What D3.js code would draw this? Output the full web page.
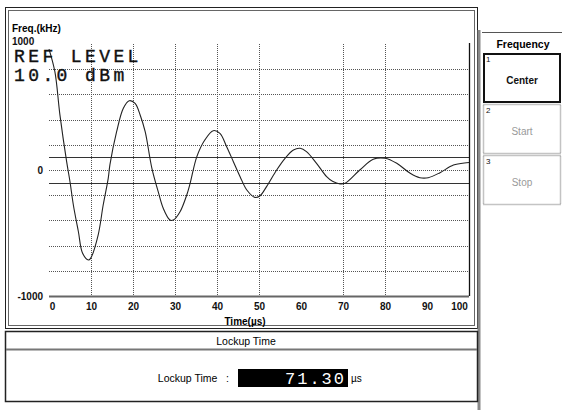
<!DOCTYPE html>
<html>
<head>
<meta charset="utf-8">
<script src="https://cdn.jsdelivr.net/npm/d3@7"></script>
<style>
  body { margin: 0; background: #fff; }
  svg { display: block; }
</style>
</head>
<body>
<div id="chart"></div>
<script>
// Lockup time trace
const timeUs = [0, 1.4, 2.6, 4.2, 5, 5.8, 7, 8, 9.4, 9.9, 11.7, 12.9, 14.1, 14.5, 16.1, 17.7, 19.1, 20.5, 21.7, 22.9, 24.5, 26, 27.2, 28.8, 29.6, 31.2, 32.8, 33.6, 35.2, 37.1, 39.1, 40.7, 42.3, 43.9, 45.5, 47.1, 49, 50.2, 51.8, 54.2, 56.2, 58.2, 59.8, 61.3, 63.7, 66.1, 67.5, 69.3, 70.5, 74, 77.2, 80, 82.8, 86, 88.3, 90.3, 93.1, 96.3, 99.4, 100];
const freqKHz = [960, 780, 437, 66, -93, -278, -490, -661, -714, -701, -516, -278, -66, 40, 304, 490, 550, 529, 437, 304, 13, -172, -304, -397, -397, -331, -198, -106, 106, 238, 312, 291, 185, 66, -53, -159, -217, -206, -132, 0, 93, 159, 172, 146, 53, -53, -90, -111, -106, 0, 85, 93, 53, -26, -61, -61, -21, 40, 58, 60];

const xTicks = [0, 10, 20, 30, 40, 50, 60, 70, 80, 90, 100];
const xGrid = [10, 20, 30, 40, 50, 70, 80];
const yGrid = [-800, -600, -400, -200, 0, 200, 400, 600, 800];
const yLabels = [1000, 0, -1000];
const limitLines = [100, -100];

const softkeys = [
  { num: "1", label: "Center", active: true },
  { num: "2", label: "Start", active: false },
  { num: "3", label: "Stop", active: false }
];
const lockupValue = "71.30";

const W = 562, H = 410;
const svg = d3.select("#chart").append("svg")
  .attr("width", W)
  .attr("height", H);

// Scales
const x = d3.scaleLinear().domain([0, 100]).range([49, 469]);
const y = d3.scaleLinear().domain([-1000, 1000]).range([296, 44]);

const labelFont = "'Liberation Sans', Arial, sans-serif";
const monoFont = "'Liberation Mono', 'DejaVu Sans Mono', monospace";

// Main panel frame (double border)
svg.append("rect")
  .attr("x", 5.5).attr("y", 7.5).attr("width", 472).attr("height", 321)
  .attr("fill", "none").attr("stroke", "#222").attr("stroke-width", 1);
svg.append("rect")
  .attr("x", 8.5).attr("y", 10.5).attr("width", 466).attr("height", 315)
  .attr("fill", "none").attr("stroke", "#666").attr("stroke-width", 1);
// gray shadow on the right side
svg.append("line")
  .attr("x1", 479).attr("x2", 479).attr("y1", 30).attr("y2", H)
  .attr("stroke", "#888").attr("stroke-width", 3);

// Grid
const grid = svg.append("g");
grid.selectAll(".vg")
  .data(xGrid)
  .join("line")
    .attr("x1", d => x(d) + 0.5).attr("x2", d => x(d) + 0.5)
    .attr("y1", y(1000)).attr("y2", y(-1000))
    .attr("stroke", "#555").attr("stroke-width", 1)
    .attr("stroke-dasharray", "1,1");
grid.selectAll(".hg")
  .data(yGrid)
  .join("line")
    .attr("x1", x(0)).attr("x2", x(100))
    .attr("y1", d => Math.round(y(d)) + 0.5).attr("y2", d => Math.round(y(d)) + 0.5)
    .attr("stroke", "#555").attr("stroke-width", 1)
    .attr("stroke-dasharray", "1,1");

// Limit lines
svg.selectAll(".lim")
  .data(limitLines)
  .join("line")
    .attr("x1", x(0)).attr("x2", x(100))
    .attr("y1", d => Math.round(y(d)) + 0.5).attr("y2", d => Math.round(y(d)) + 0.5)
    .attr("stroke", "#333").attr("stroke-width", 1.2);

// Bottom axis line and right border
svg.append("line")
  .attr("x1", x(0)).attr("x2", x(100))
  .attr("y1", y(-1000) + 0.5).attr("y2", y(-1000) + 0.5)
  .attr("stroke", "#666").attr("stroke-width", 2);
svg.append("line")
  .attr("x1", x(100) + 0.5).attr("x2", x(100) + 0.5)
  .attr("y1", y(1000) - 1).attr("y2", y(-1000))
  .attr("stroke", "#111").attr("stroke-width", 1.3);

// X axis using d3 axis, without ticks
const xAxis = svg.append("g")
  .attr("transform", `translate(0,${y(-1000)})`)
  .call(d3.axisBottom(x).tickValues(xTicks).tickSize(0).tickPadding(7).tickFormat(d3.format("d")));
xAxis.select(".domain").remove();
// end labels are nudged inside the plot, like on the instrument
xAxis.selectAll("text")
  .attr("dx", d => d === 0 ? 3 : d === 100 ? -10 : 0)
  .attr("font-family", labelFont)
  .attr("font-weight", "bold")
  .attr("font-size", "10px")
  .attr("fill", "#111");

svg.append("text")
  .attr("x", 245).attr("y", 325)
  .attr("text-anchor", "middle")
  .attr("font-family", labelFont).attr("font-weight", "bold").attr("font-size", "10px")
  .text("Time(µs)");

// Y labels
svg.selectAll(".ylab")
  .data(yLabels)
  .join("text")
    .attr("x", d => d === 1000 ? 12 : 43)
    .attr("y", d => d === 1000 ? y(d) + 1 : y(d) + 4)
    .attr("text-anchor", d => d === 1000 ? "start" : "end")
    .attr("font-family", labelFont).attr("font-weight", "bold").attr("font-size", "10px")
    .attr("fill", "#111")
    .text(d => d);

svg.append("text")
  .attr("x", 12).attr("y", 32)
  .attr("font-family", labelFont).attr("font-weight", "bold").attr("font-size", "10px")
  .text("Freq.(kHz)");

// Trace
const line = d3.line()
  .x((d, i) => x(timeUs[i]))
  .y(d => y(d))
  .curve(d3.curveCatmullRom);
svg.append("path")
  .datum(freqKHz)
  .attr("d", line)
  .attr("fill", "none")
  .attr("stroke", "#222")
  .attr("stroke-width", 1.1);

// REF LEVEL overlay
svg.append("text")
  .attr("x", 14).attr("y", 62)
  .attr("font-family", monoFont).attr("font-size", "18px")
  .attr("letter-spacing", "3.4px")
  .attr("fill", "#111")
  .attr("stroke", "#111").attr("stroke-width", 0.4)
  .text("REF LEVEL");
svg.append("text")
  .attr("x", 14).attr("y", 81)
  .attr("font-family", monoFont).attr("font-size", "18px")
  .attr("letter-spacing", "3.4px")
  .attr("fill", "#111")
  .attr("stroke", "#111").attr("stroke-width", 0.4)
  .text("10.0 dBm");

// Right softkey panel
const panel = svg.append("g");
panel.append("line")
  .attr("x1", 482).attr("x2", W).attr("y1", 32.5).attr("y2", 32.5)
  .attr("stroke", "#555");
panel.append("text")
  .attr("x", 523).attr("y", 48)
  .attr("text-anchor", "middle")
  .attr("font-family", labelFont).attr("font-weight", "bold").attr("font-size", "10.5px")
  .text("Frequency");

const keyH = 50;
const keys = panel.selectAll(".key")
  .data(softkeys)
  .join("g")
    .attr("transform", (d, i) => `translate(483,${53 + i * (keyH + 1)})`);
keys.append("rect")
  .attr("x", d => d.active ? 1 : 0.5).attr("y", d => d.active ? 1 : 0.5)
  .attr("width", d => d.active ? 76 : 77).attr("height", d => d.active ? keyH - 2 : keyH - 1)
  .attr("fill", "#fff")
  .attr("stroke", d => d.active ? "#111" : "#888")
  .attr("stroke-width", d => d.active ? 2 : 1.5)
  .attr("stroke-dasharray", d => d.active ? null : "1,1");
keys.append("text")
  .attr("x", 3).attr("y", 9)
  .attr("font-family", labelFont).attr("font-size", "8px")
  .attr("fill", "#111")
  .text(d => d.num);
keys.append("text")
  .attr("x", 39).attr("y", 31)
  .attr("text-anchor", "middle")
  .attr("font-family", labelFont).attr("font-weight", d => d.active ? "bold" : "normal").attr("font-size", "10px")
  .attr("fill", d => d.active ? "#111" : "#999")
  .text(d => d.label);

// Lower panel: Lockup Time
const low = svg.append("g");
low.append("rect")
  .attr("x", 5.5).attr("y", 331.5).attr("width", 472).attr("height", 70)
  .attr("fill", "none").attr("stroke", "#222").attr("stroke-width", 1.5);
low.append("line")
  .attr("x1", 6).attr("x2", 477).attr("y1", 349.5).attr("y2", 349.5)
  .attr("stroke", "#777").attr("stroke-width", 2);
low.append("text")
  .attr("x", 246).attr("y", 345)
  .attr("text-anchor", "middle")
  .attr("font-family", labelFont).attr("font-size", "10.5px")
  .text("Lockup Time");
low.append("text")
  .attr("x", 229).attr("y", 382)
  .attr("text-anchor", "end")
  .attr("font-family", labelFont).attr("font-size", "10.5px")
  .attr("xml:space", "preserve")
  .text("Lockup Time   :");
low.append("rect")
  .attr("x", 238).attr("y", 369).attr("width", 110).attr("height", 18)
  .attr("fill", "#000");
low.append("text")
  .attr("x", 346).attr("y", 384)
  .attr("text-anchor", "end")
  .attr("font-family", monoFont).attr("font-size", "17px")
  .attr("letter-spacing", "2px")
  .attr("fill", "#fff")
  .text(lockupValue);
low.append("text")
  .attr("x", 351).attr("y", 382)
  .attr("font-family", labelFont).attr("font-size", "10px")
  .text("µs");
</script>
</body>
</html>
